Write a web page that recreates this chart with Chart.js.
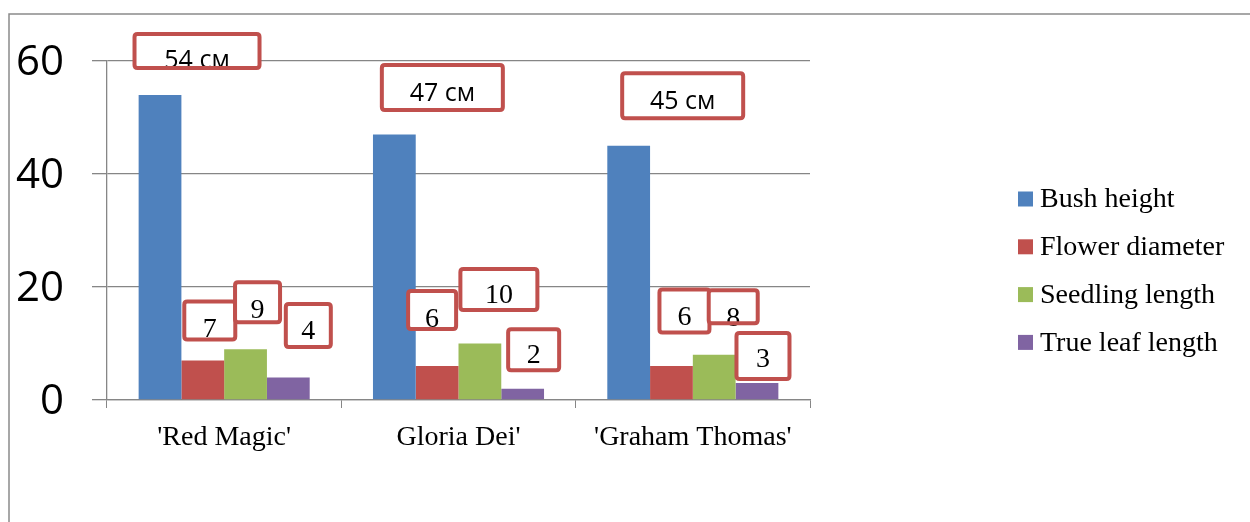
<!DOCTYPE html>
<html>
<head>
<meta charset="utf-8">
<script src="https://cdn.jsdelivr.net/npm/chart.js@4.4.1/dist/chart.umd.min.js"></script>
<style>
html,body{margin:0;padding:0;background:#fff;overflow:hidden}
#wrap{width:1250px;height:522px;position:relative}
</style>
</head>
<body>
<div id="wrap"><canvas id="c" width="1250" height="522"></canvas></div>
<script>
// ---- data ----
const categories = ["'Red Magic'", "Gloria Dei'", "'Graham Thomas'"];
const seriesNames = ["Bush height", "Flower diameter", "Seedling length", "True leaf length"];
const bushHeight = [54, 47, 45];
const flowerDiameter = [7, 6, 6];
const seedlingLength = [9, 10, 8];
const trueLeafLength = [4, 2, 3];
const yTickValues = [0, 20, 40, 60];
const heightUnit = "см";

// ---- style ----
const seriesColors = ["#4F81BD", "#C0504D", "#9BBB59", "#8064A2"];
const gridColor = "#868686";
const calloutColor = "#C0504D";
// callout layout per series per category: [dx, dy, width, height, textDy] relative to bar top
const calloutLayout = [
  [[37, -44, 129, 38, 10], [48, -47, 125, 49, 6], [54, -50, 125, 49, 6]],
  [[7, -40, 55, 42, 9], [-5, -56, 52, 42, 10], [13, -55, 54, 47, 7]],
  [[12, -47, 49, 44, 8], [19, -54, 81, 45, 6], [19, -48, 53, 37, 12]],
  [[20, -52, 49, 47, 6], [11, -39, 55, 45, 6], [6, -27, 57, 50, 4]]
];

const seriesValues = [bushHeight, flowerDiameter, seedlingLength, trueLeafLength];

const framePlugin = {
  id: 'frame',
  beforeDraw(chart) {
    const ctx = chart.ctx;
    ctx.save();
    ctx.strokeStyle = '#8a8a8a';
    ctx.lineWidth = 1.5;
    ctx.beginPath();
    ctx.moveTo(9, 522);
    ctx.lineTo(9, 14);
    ctx.lineTo(1250, 14);
    ctx.stroke();
    ctx.restore();
  }
};

function roundRect(ctx, x, y, w, h, r) {
  ctx.beginPath();
  ctx.moveTo(x + r, y);
  ctx.lineTo(x + w - r, y);
  ctx.quadraticCurveTo(x + w, y, x + w, y + r);
  ctx.lineTo(x + w, y + h - r);
  ctx.quadraticCurveTo(x + w, y + h, x + w - r, y + h);
  ctx.lineTo(x + r, y + h);
  ctx.quadraticCurveTo(x, y + h, x, y + h - r);
  ctx.lineTo(x, y + r);
  ctx.quadraticCurveTo(x, y, x + r, y);
  ctx.closePath();
}

const calloutPlugin = {
  id: 'callouts',
  afterDatasetsDraw(chart) {
    const ctx = chart.ctx;
    ctx.save();
    chart.data.datasets.forEach((ds, s) => {
      const meta = chart.getDatasetMeta(s);
      meta.data.forEach((bar, i) => {
        const [dx, dy, w, h, ty] = calloutLayout[s][i];
        const cx = bar.x + dx, cy = bar.y + dy;
        const sw = 4;
        roundRect(ctx, cx - w / 2 + sw / 2, cy - h / 2 + sw / 2, w - sw, h - sw, 3);
        ctx.fillStyle = '#fff';
        ctx.fill();
        const v = ds.data[i];
        const txt = s === 0 ? `${v} ${heightUnit}` : `${v}`;
        ctx.fillStyle = '#000';
        ctx.textAlign = 'center';
        ctx.textBaseline = 'middle';
        ctx.font = s === 0 ? '25px "Open Sans"' : '28px "Liberation Serif"';
        ctx.fillText(txt, cx, cy + ty);
        ctx.lineWidth = sw;
        ctx.strokeStyle = calloutColor;
        ctx.stroke();
      });
    });
    ctx.restore();
  }
};

const legendPlugin = {
  id: 'customLegend',
  afterDraw(chart) {
    const ctx = chart.ctx;
    ctx.save();
    ctx.font = '28px "Liberation Serif"';
    ctx.textBaseline = 'middle';
    ctx.textAlign = 'left';
    chart.data.datasets.forEach((ds, s) => {
      const y = 199 + s * 47.8;
      ctx.fillStyle = ds.backgroundColor;
      ctx.fillRect(1018, y - 7.5, 15, 15);
      ctx.fillStyle = '#000';
      ctx.fillText(ds.label, 1040, y + 1);
    });
    ctx.restore();
  }
};

new Chart(document.getElementById('c'), {
  type: 'bar',
  data: {
    labels: categories,
    datasets: seriesNames.map((name, s) => ({
      label: name,
      data: seriesValues[s],
      backgroundColor: seriesColors[s],
      borderWidth: 0,
      categoryPercentage: 0.73,
      barPercentage: 1.0
    }))
  },
  options: {
    responsive: false,
    animation: false,
    devicePixelRatio: 1,
    layout: { padding: { left: 0, right: 440, top: 61, bottom: 0 } },
    plugins: { legend: { display: false }, tooltip: { enabled: false } },
    scales: {
      x: {
        afterFit(scale) { scale.height = 122; },
        grid: { display: true, drawOnChartArea: false, drawTicks: true, tickLength: 8, color: gridColor, offset: true },
        border: { display: true, color: gridColor, width: 1.3 },
        ticks: { color: '#000', font: { family: 'Liberation Serif', size: 28 }, padding: 13, maxRotation: 0 }
      },
      y: {
        min: 0,
        max: 60,
        afterFit(scale) { scale.width = 107; },
        afterBuildTicks(scale) { scale.ticks = yTickValues.map(v => ({ value: v })); },
        grid: { color: gridColor, lineWidth: 1.3, drawTicks: true, tickLength: 15 },
        border: { display: true, color: gridColor, width: 1.3 },
        ticks: { color: '#000', font: { family: 'Open Sans', size: 42 }, padding: 28, labelOffset: 2 }
      }
    }
  },
  plugins: [framePlugin, calloutPlugin, legendPlugin]
});
</script>
</body>
</html>
